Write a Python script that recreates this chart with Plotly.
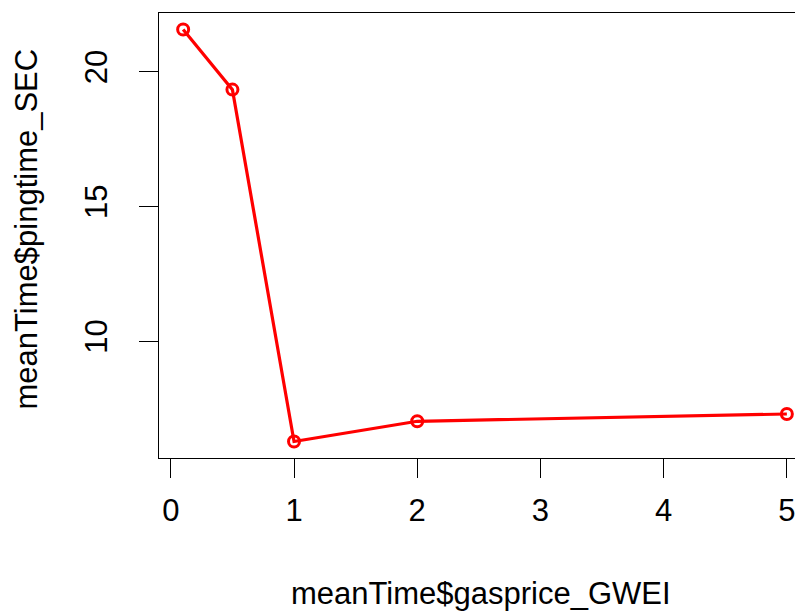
import plotly.graph_objects as go

# Data
gasprice_GWEI = [0.1, 0.5, 1, 2, 5]
pingtime_SEC = [21.56, 19.33, 6.28, 7.03, 7.30]

x_ticks = [0, 1, 2, 3, 4, 5]
y_ticks = [10, 15, 20]
x_title = "meanTime$gasprice_GWEI"
y_title = "meanTime$pingtime_SEC"

# page body has an 8px margin, so the figure is offset by 8px
OFF = 8
W, H = 803 - OFF, 611 - OFF
L, R, T = 159 - OFF, 0, 13 - OFF
PLOT_H = 445
B = H - T - PLOT_H

# R-style axis limits: data range extended by 4% on each side
xlo, xhi = min(gasprice_GWEI), max(gasprice_GWEI)
xp = 0.04 * (xhi - xlo)
x_full = [xlo - xp, xhi + xp]
ylo, yhi = min(pingtime_SEC), max(pingtime_SEC)
yp = 0.04 * (yhi - ylo)
y_range = [ylo - yp, yhi + yp]

# the reference image is cropped on the right: the full plot region would be ~652px wide
full_w = 652.0
vis_w = W - L - R
x_range = [x_full[0], x_full[0] + (x_full[1] - x_full[0]) * vis_w / full_w]

FONT = "Liberation Sans, Arial, sans-serif"
FS = 31

fig = go.Figure()
fig.add_trace(go.Scatter(
    x=gasprice_GWEI, y=pingtime_SEC, mode="lines+markers",
    line=dict(color="#ff0000", width=3.2),
    marker=dict(symbol="circle-open", size=11, color="#ff0000", line=dict(width=3, color="#ff0000")),
    showlegend=False, cliponaxis=False,
))

fig.update_layout(
    width=W, height=H, autosize=False,
    margin=dict(l=L, r=R, t=T, b=B, pad=0),
    paper_bgcolor="white", plot_bgcolor="white",
    font=dict(family=FONT, size=FS, color="#000000"),
    xaxis=dict(range=x_range, tickvals=x_ticks, ticks="outside", ticklen=19, tickwidth=1.3,
               tickcolor="black", showline=True, linecolor="black", linewidth=1.3, mirror=True,
               showgrid=False, zeroline=False, tickfont=dict(size=FS, color="#000000"),
               ticklabelstandoff=6),
    yaxis=dict(range=y_range, tickvals=y_ticks, ticks="outside", ticklen=19, tickwidth=1.3,
               tickcolor="black", showline=True, linecolor="black", linewidth=1.3, mirror=False,
               showgrid=False, zeroline=False, tickangle=-90, tickfont=dict(size=FS, color="#000000"),
               ticklabelstandoff=19),
    annotations=[
        dict(text=x_title, xref="paper", yref="paper", x=(481 - 159) / vis_w, y=0,
             xanchor="center", yanchor="top", yshift=-116, showarrow=False,
             font=dict(family=FONT, size=FS, color="#000000")),
        dict(text=y_title, xref="paper", yref="paper", x=0, y=0.5, textangle=-90,
             xanchor="center", yanchor="middle", xshift=-133, yshift=6, showarrow=False,
             font=dict(family=FONT, size=FS, color="#000000")),
    ],
)

fig.write_html("out.html")
